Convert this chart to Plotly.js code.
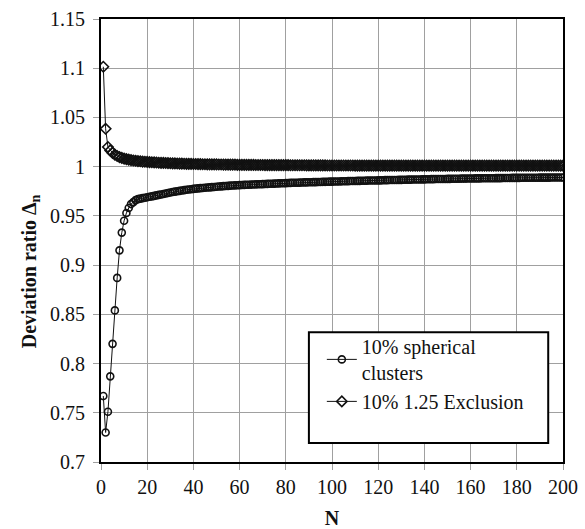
<!DOCTYPE html>
<html>
<head>
<meta charset="utf-8">
<script src="https://cdn.plot.ly/plotly-3.0.1.min.js"></script>
<style>
  html, body { margin: 0; padding: 0; background: #ffffff; }
  #chart { width: 585px; height: 529px; }
</style>
</head>
<body>
<div id="chart"></div>
<script>
// Series values, N = 1..200
var sphericalClusters = [
  0.767, 0.730, 0.751, 0.787, 0.820, 0.854, 0.887, 0.915, 0.933, 0.945,
  0.953, 0.958, 0.962, 0.964, 0.966, 0.967, 0.9675, 0.968, 0.9685, 0.969,
  0.9694, 0.9698, 0.9703, 0.9708, 0.9713, 0.9718, 0.9723, 0.9728, 0.9733, 0.9738,
  0.9742, 0.9746, 0.9750, 0.9754, 0.9758, 0.9762, 0.9765, 0.9768, 0.9771, 0.9774,
  0.9777, 0.9779, 0.9782, 0.9784, 0.9786, 0.9788, 0.9790, 0.9792, 0.9794, 0.9796,
  0.9798, 0.9800, 0.9802, 0.9803, 0.9805, 0.9807, 0.9808, 0.9810, 0.9811, 0.9812,
  0.9814, 0.9815, 0.9816, 0.9817, 0.9818, 0.9819, 0.9820, 0.9821, 0.9822, 0.9823,
  0.9824, 0.9825, 0.9826, 0.9827, 0.9828, 0.9829, 0.9830, 0.9831, 0.9832, 0.9833,
  0.9834, 0.9835, 0.9836, 0.9836, 0.9837, 0.9838, 0.9839, 0.9840, 0.9840, 0.9841,
  0.9842, 0.9843, 0.9843, 0.9844, 0.9845, 0.9846, 0.9846, 0.9847, 0.9848, 0.9848,
  0.9849, 0.9850, 0.9850, 0.9851, 0.9852, 0.9852, 0.9853, 0.9854, 0.9854, 0.9855,
  0.9856, 0.9856, 0.9857, 0.9857, 0.9858, 0.9859, 0.9859, 0.9860, 0.9860, 0.9861,
  0.9861, 0.9862, 0.9863, 0.9863, 0.9864, 0.9864, 0.9865, 0.9865, 0.9866, 0.9866,
  0.9867, 0.9867, 0.9868, 0.9868, 0.9869, 0.9869, 0.9870, 0.9870, 0.9871, 0.9871,
  0.9872, 0.9872, 0.9873, 0.9873, 0.9874, 0.9874, 0.9875, 0.9875, 0.9875, 0.9876,
  0.9876, 0.9877, 0.9877, 0.9878, 0.9878, 0.9879, 0.9879, 0.9879, 0.9880, 0.9880,
  0.9880, 0.9881, 0.9881, 0.9881, 0.9882, 0.9882, 0.9882, 0.9883, 0.9883, 0.9883,
  0.9884, 0.9884, 0.9884, 0.9885, 0.9885, 0.9885, 0.9885, 0.9886, 0.9886, 0.9886,
  0.9886, 0.9887, 0.9887, 0.9887, 0.9887, 0.9888, 0.9888, 0.9888, 0.9888, 0.9889,
  0.9889, 0.9889, 0.9889, 0.9889, 0.9890, 0.9890, 0.9890, 0.9890, 0.9890, 0.9890
];
var exclusion125 = [
  1.1015, 1.0385, 1.0200, 1.0165, 1.0140, 1.0122, 1.0108, 1.0097, 1.0089, 1.0082,
  1.0076, 1.0071, 1.0067, 1.0063, 1.0060, 1.0057, 1.0055, 1.0052, 1.0050, 1.0048,
  1.0046, 1.0045, 1.0043, 1.0042, 1.0040, 1.0039, 1.0038, 1.0037, 1.0036, 1.0035,
  1.0034, 1.0033, 1.0032, 1.0031, 1.0031, 1.0030, 1.0029, 1.0029, 1.0028, 1.0027,
  1.0027, 1.0026, 1.0026, 1.0025, 1.0025, 1.0024, 1.0024, 1.0023, 1.0023, 1.0023,
  1.0022, 1.0022, 1.0021, 1.0021, 1.0021, 1.0020, 1.0020, 1.0020, 1.0019, 1.0019,
  1.0019, 1.0019, 1.0018, 1.0018, 1.0018, 1.0018, 1.0017, 1.0017, 1.0017, 1.0017,
  1.0016, 1.0016, 1.0016, 1.0016, 1.0016, 1.0015, 1.0015, 1.0015, 1.0015, 1.0015,
  1.0015, 1.0014, 1.0014, 1.0014, 1.0014, 1.0014, 1.0014, 1.0014, 1.0013, 1.0013,
  1.0013, 1.0013, 1.0013, 1.0013, 1.0013, 1.0013, 1.0013, 1.0012, 1.0012, 1.0012,
  1.0012, 1.0012, 1.0012, 1.0012, 1.0012, 1.0012, 1.0012, 1.0012, 1.0012, 1.0011,
  1.0011, 1.0011, 1.0011, 1.0011, 1.0011, 1.0011, 1.0011, 1.0011, 1.0011, 1.0011,
  1.0011, 1.0011, 1.0011, 1.0011, 1.0011, 1.0011, 1.0011, 1.0011, 1.0010, 1.0010,
  1.0010, 1.0010, 1.0010, 1.0010, 1.0010, 1.0010, 1.0010, 1.0010, 1.0010, 1.0010,
  1.0010, 1.0010, 1.0010, 1.0010, 1.0010, 1.0010, 1.0010, 1.0010, 1.0010, 1.0010,
  1.0010, 1.0010, 1.0010, 1.0010, 1.0010, 1.0010, 1.0010, 1.0010, 1.0010, 1.0010,
  1.0010, 1.0010, 1.0010, 1.0010, 1.0010, 1.0010, 1.0010, 1.0010, 1.0010, 1.0010,
  1.0010, 1.0010, 1.0010, 1.0010, 1.0010, 1.0010, 1.0010, 1.0010, 1.0010, 1.0010,
  1.0010, 1.0010, 1.0010, 1.0010, 1.0010, 1.0010, 1.0010, 1.0010, 1.0010, 1.0010,
  1.0010, 1.0010, 1.0010, 1.0010, 1.0010, 1.0010, 1.0010, 1.0010, 1.0010, 1.0010
];
var seriesNames = ["10% spherical<br>clusters", "10% 1.25 Exclusion"];
var xTickVals = [0, 20, 40, 60, 80, 100, 120, 140, 160, 180, 200];
var yTickVals = [0.7, 0.75, 0.8, 0.85, 0.9, 0.95, 1, 1.05, 1.1, 1.15];
var yTickText = ["0.7", "0.75", "0.8", "0.85", "0.9", "0.95", "1", "1.05", "1.1", "1.15"];
var xTitle = "N";
var yTitle = "Deviation ratio Δ<sub>n</sub>";

var nValues = sphericalClusters.map(function (_, i) { return i + 1; });

var FONT = "'Liberation Serif', 'Times New Roman', Times, serif";

var traces = [
  {
    x: nValues, y: sphericalClusters, name: seriesNames[0],
    type: "scatter", mode: "lines+markers",
    line: { color: "#111111", width: 1 },
    marker: { symbol: "circle-open", size: 7, color: "#111111", line: { width: 1.6, color: "#111111" } }
  },
  {
    x: nValues, y: exclusion125, name: seriesNames[1],
    type: "scatter", mode: "lines+markers",
    line: { color: "#111111", width: 1 },
    marker: { symbol: "diamond-open", size: 8, color: "#111111", line: { width: 1.6, color: "#111111" } }
  }
];

var layout = {
  width: 585, height: 529,
  margin: { l: 101, r: 22, t: 19, b: 67, pad: 0 },
  paper_bgcolor: "#ffffff", plot_bgcolor: "#ffffff",
  font: { family: FONT, size: 20, color: "#111111" },
  showlegend: true,
  xaxis: {
    range: [0, 200], tickvals: xTickVals, ticktext: xTickVals.map(String),
    showgrid: true, gridcolor: "#a0a0a0", gridwidth: 1,
    zeroline: false, showline: true, mirror: true, linecolor: "#000000", linewidth: 2,
    ticks: "outside", ticklen: 6, tickcolor: "#a0a0a0", tickwidth: 1,
    tickfont: { family: FONT, size: 20, color: "#111111" },
    title: { text: "<b>" + xTitle + "</b>", font: { family: FONT, size: 20, color: "#111111" }, standoff: 17 }
  },
  yaxis: {
    range: [0.7, 1.15], tickvals: yTickVals, ticktext: yTickText,
    showgrid: true, gridcolor: "#a0a0a0", gridwidth: 1,
    zeroline: false, showline: true, mirror: true, linecolor: "#000000", linewidth: 2,
    ticks: "outside", ticklen: 6, tickcolor: "#a0a0a0", tickwidth: 1,
    ticklabelstandoff: 4,
    tickfont: { family: FONT, size: 20, color: "#111111" }
  },
  legend: {
    x: 0.478, y: 0.305, xanchor: "left", yanchor: "top",
    bgcolor: "rgba(0,0,0,0)", borderwidth: 0,
    font: { family: FONT, size: 20, color: "#111111" },
    tracegroupgap: 0
  },
  annotations: [
    {
      text: "<b>" + yTitle + "</b>", textangle: -90,
      xref: "paper", yref: "paper", x: -0.152, y: 0.43,
      xanchor: "center", yanchor: "middle", showarrow: false,
      font: { family: FONT, size: 20, color: "#111111" }
    }
  ],
  shapes: [
    {
      type: "rect", xref: "paper", yref: "paper", layer: "above",
      x0: 0.450, x1: 0.968, y0: 0.043, y1: 0.293,
      line: { color: "#000000", width: 2 }, fillcolor: "#ffffff"
    }
  ]
};

Plotly.newPlot("chart", traces, layout, { displayModeBar: false, staticPlot: true });
</script>
</body>
</html>
